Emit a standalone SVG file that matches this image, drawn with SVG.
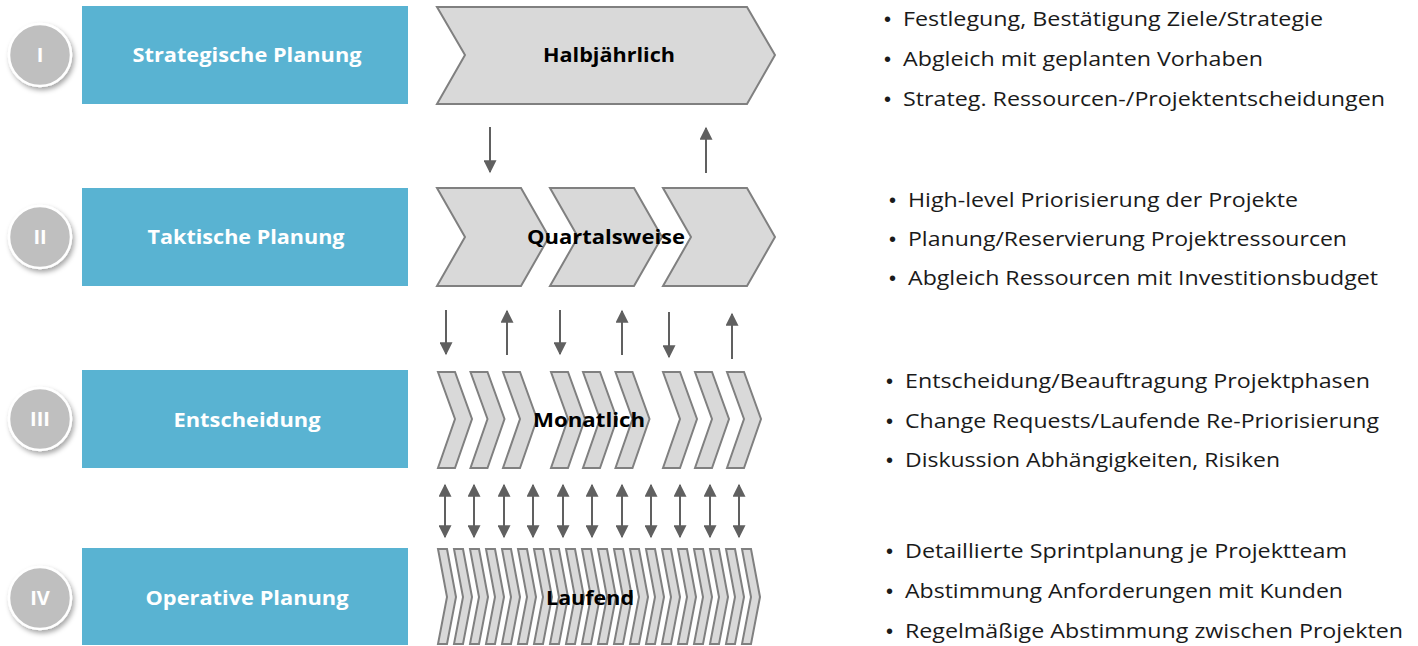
<svg xmlns="http://www.w3.org/2000/svg" width="1418" height="646" viewBox="0 0 1418 646">
  <defs>
    <filter id="shadow" x="-40%" y="-40%" width="180%" height="180%">
      <feDropShadow dx="2" dy="3" stdDeviation="2.5" flood-color="#000" flood-opacity="0.35"/>
    </filter>
    <marker id="head" viewBox="0 0 10 10" refX="9" refY="5" markerWidth="15" markerHeight="13" markerUnits="userSpaceOnUse" orient="auto-start-reverse">
      <path d="M0,0 L10,5 L0,10 Z" fill="#606060"/>
    </marker>
    <style>
      .box { fill: #59b3d2; }
      .badge { fill: #bfbfbf; stroke: #ffffff; stroke-width: 2.5; }
      .num { font-family: "Open Sans", "Liberation Sans", sans-serif; font-weight: bold; font-size: 20px; fill: #ffffff; text-anchor: middle; }
      .title { font-family: "Open Sans", "Liberation Sans", sans-serif; font-weight: bold; font-size: 19px; fill: #ffffff; text-anchor: middle; }
      .chev { fill: #d9d9d9; stroke: #808080; stroke-width: 2; stroke-linejoin: miter; }
      .chev-label { font-family: "Open Sans", "Liberation Sans", sans-serif; font-weight: bold; font-size: 20px; fill: #000000; text-anchor: middle; }
      .item { font-family: "Open Sans", "Liberation Sans", sans-serif; font-size: 20px; fill: #1a1a1a; }
      .bullet { font-family: "Liberation Sans", sans-serif; font-size: 20px; fill: #1a1a1a; }
      .link { stroke: #606060; stroke-width: 2; fill: none; }
    </style>
    <!-- chevron shapes used in the four cadence rows -->
    <polygon id="chev-q" points="0,0 84,0 112,49 84,98 0,98 28,49"/>
    <polygon id="chev-m" points="0,0 17,0 34,47 17,96 0,96 17,47"/>
    <polygon id="chev-l" points="0,0 9,0 18,48 9,95 0,95 9,48"/>
  </defs>

  <rect width="1418" height="646" fill="#ffffff"/>

  <!-- Row I -->
  <g id="level-1">
    <rect class="box" x="82" y="6" width="326" height="98"/>
    <text class="title" x="247" y="62" textLength="229" lengthAdjust="spacingAndGlyphs">Strategische Planung</text>
    <circle class="badge" cx="40" cy="55" r="31" filter="url(#shadow)"/>
    <text class="num" x="40" y="62">I</text>
  </g>
  <g id="cadence-1">
    <polygon class="chev" points="437,7 747,7 775,55 747,104 437,104 465,55"/>
    <text class="chev-label" x="609" y="62" textLength="132" lengthAdjust="spacingAndGlyphs">Halbjährlich</text>
  </g>
  <g id="notes-1">
    <text class="bullet" x="884" y="26">•</text><text class="item" x="903" y="26" textLength="420" lengthAdjust="spacingAndGlyphs">Festlegung, Bestätigung Ziele/Strategie</text>
    <text class="bullet" x="884" y="66">•</text><text class="item" x="903" y="66" textLength="360" lengthAdjust="spacingAndGlyphs">Abgleich mit geplanten Vorhaben</text>
    <text class="bullet" x="884" y="106">•</text><text class="item" x="903" y="106" textLength="482" lengthAdjust="spacingAndGlyphs">Strateg. Ressourcen-/Projektentscheidungen</text>
  </g>

  <!-- Row II -->
  <g id="level-2">
    <rect class="box" x="82" y="188" width="326" height="98"/>
    <text class="title" x="246" y="244" textLength="197" lengthAdjust="spacingAndGlyphs">Taktische Planung</text>
    <circle class="badge" cx="40" cy="237" r="31" filter="url(#shadow)"/>
    <text class="num" x="40" y="244">II</text>
  </g>
  <g id="cadence-2">
    <use href="#chev-q" class="chev" x="437" y="188"/>
    <use href="#chev-q" class="chev" x="550" y="188"/>
    <use href="#chev-q" class="chev" x="663" y="188"/>
    <text class="chev-label" x="606" y="244" textLength="158" lengthAdjust="spacingAndGlyphs">Quartalsweise</text>
  </g>
  <g id="notes-2">
    <text class="bullet" x="889" y="207">•</text><text class="item" x="908" y="207" textLength="390" lengthAdjust="spacingAndGlyphs">High-level Priorisierung der Projekte</text>
    <text class="bullet" x="889" y="246">•</text><text class="item" x="908" y="246" textLength="439" lengthAdjust="spacingAndGlyphs">Planung/Reservierung Projektressourcen</text>
    <text class="bullet" x="889" y="285">•</text><text class="item" x="908" y="285" textLength="470" lengthAdjust="spacingAndGlyphs">Abgleich Ressourcen mit Investitionsbudget</text>
  </g>

  <!-- Row III -->
  <g id="level-3">
    <rect class="box" x="82" y="370" width="326" height="98"/>
    <text class="title" x="247" y="427" textLength="147" lengthAdjust="spacingAndGlyphs">Entscheidung</text>
    <circle class="badge" cx="40" cy="419" r="31" filter="url(#shadow)"/>
    <text class="num" x="40" y="426">III</text>
  </g>
  <g id="cadence-3">
    <use href="#chev-m" class="chev" x="438" y="372"/>
    <use href="#chev-m" class="chev" x="470.5" y="372"/>
    <use href="#chev-m" class="chev" x="503" y="372"/>
    <use href="#chev-m" class="chev" x="551" y="372"/>
    <use href="#chev-m" class="chev" x="583" y="372"/>
    <use href="#chev-m" class="chev" x="615.5" y="372"/>
    <use href="#chev-m" class="chev" x="663" y="372"/>
    <use href="#chev-m" class="chev" x="695" y="372"/>
    <use href="#chev-m" class="chev" x="727" y="372"/>
    <text class="chev-label" x="589" y="427" textLength="112" lengthAdjust="spacingAndGlyphs">Monatlich</text>
  </g>
  <g id="notes-3">
    <text class="bullet" x="886" y="388">•</text><text class="item" x="905" y="388" textLength="465" lengthAdjust="spacingAndGlyphs">Entscheidung/Beauftragung Projektphasen</text>
    <text class="bullet" x="886" y="428">•</text><text class="item" x="905" y="428" textLength="474" lengthAdjust="spacingAndGlyphs">Change Requests/Laufende Re-Priorisierung</text>
    <text class="bullet" x="886" y="467">•</text><text class="item" x="905" y="467" textLength="375" lengthAdjust="spacingAndGlyphs">Diskussion Abhängigkeiten, Risiken</text>
  </g>

  <!-- Row IV -->
  <g id="level-4">
    <rect class="box" x="82" y="548" width="326" height="97"/>
    <text class="title" x="247" y="605" textLength="203" lengthAdjust="spacingAndGlyphs">Operative Planung</text>
    <circle class="badge" cx="40" cy="598" r="31" filter="url(#shadow)"/>
    <text class="num" x="40" y="605">IV</text>
  </g>
  <g id="cadence-4">
    <use href="#chev-l" class="chev" x="438" y="549"/>
    <use href="#chev-l" class="chev" x="454" y="549"/>
    <use href="#chev-l" class="chev" x="470" y="549"/>
    <use href="#chev-l" class="chev" x="486" y="549"/>
    <use href="#chev-l" class="chev" x="502" y="549"/>
    <use href="#chev-l" class="chev" x="518" y="549"/>
    <use href="#chev-l" class="chev" x="534" y="549"/>
    <use href="#chev-l" class="chev" x="550" y="549"/>
    <use href="#chev-l" class="chev" x="566" y="549"/>
    <use href="#chev-l" class="chev" x="582" y="549"/>
    <use href="#chev-l" class="chev" x="598" y="549"/>
    <use href="#chev-l" class="chev" x="614" y="549"/>
    <use href="#chev-l" class="chev" x="630" y="549"/>
    <use href="#chev-l" class="chev" x="646" y="549"/>
    <use href="#chev-l" class="chev" x="662" y="549"/>
    <use href="#chev-l" class="chev" x="678" y="549"/>
    <use href="#chev-l" class="chev" x="694" y="549"/>
    <use href="#chev-l" class="chev" x="710" y="549"/>
    <use href="#chev-l" class="chev" x="726" y="549"/>
    <use href="#chev-l" class="chev" x="742" y="549"/>
    <text class="chev-label" x="590" y="605" textLength="88" lengthAdjust="spacingAndGlyphs">Laufend</text>
  </g>
  <g id="notes-4">
    <text class="bullet" x="886" y="558">•</text><text class="item" x="905" y="558" textLength="442" lengthAdjust="spacingAndGlyphs">Detaillierte Sprintplanung je Projektteam</text>
    <text class="bullet" x="886" y="598">•</text><text class="item" x="905" y="598" textLength="438" lengthAdjust="spacingAndGlyphs">Abstimmung Anforderungen mit Kunden</text>
    <text class="bullet" x="886" y="638">•</text><text class="item" x="905" y="638" textLength="498" lengthAdjust="spacingAndGlyphs">Regelmäßige Abstimmung zwischen Projekten</text>
  </g>

  <!-- Connectors between cadence rows -->
  <g id="connectors">
    <line class="link" x1="490" y1="127" x2="490" y2="172" marker-end="url(#head)"/>
    <line class="link" x1="706" y1="173" x2="706" y2="128" marker-end="url(#head)"/>

    <line class="link" x1="446" y1="310" x2="446" y2="354" marker-end="url(#head)"/>
    <line class="link" x1="507" y1="355" x2="507" y2="311" marker-end="url(#head)"/>
    <line class="link" x1="560" y1="310" x2="560" y2="354" marker-end="url(#head)"/>
    <line class="link" x1="622" y1="355" x2="622" y2="311" marker-end="url(#head)"/>
    <line class="link" x1="669" y1="312" x2="669" y2="357" marker-end="url(#head)"/>
    <line class="link" x1="732" y1="359" x2="732" y2="314" marker-end="url(#head)"/>

    <line class="link" x1="445" y1="485" x2="445" y2="537" marker-start="url(#head)" marker-end="url(#head)"/>
    <line class="link" x1="474" y1="485" x2="474" y2="537" marker-start="url(#head)" marker-end="url(#head)"/>
    <line class="link" x1="504" y1="485" x2="504" y2="537" marker-start="url(#head)" marker-end="url(#head)"/>
    <line class="link" x1="533" y1="485" x2="533" y2="537" marker-start="url(#head)" marker-end="url(#head)"/>
    <line class="link" x1="563" y1="485" x2="563" y2="537" marker-start="url(#head)" marker-end="url(#head)"/>
    <line class="link" x1="592" y1="485" x2="592" y2="537" marker-start="url(#head)" marker-end="url(#head)"/>
    <line class="link" x1="622" y1="485" x2="622" y2="537" marker-start="url(#head)" marker-end="url(#head)"/>
    <line class="link" x1="651" y1="485" x2="651" y2="537" marker-start="url(#head)" marker-end="url(#head)"/>
    <line class="link" x1="680" y1="485" x2="680" y2="537" marker-start="url(#head)" marker-end="url(#head)"/>
    <line class="link" x1="710" y1="485" x2="710" y2="537" marker-start="url(#head)" marker-end="url(#head)"/>
    <line class="link" x1="739" y1="485" x2="739" y2="537" marker-start="url(#head)" marker-end="url(#head)"/>
  </g>
</svg>
